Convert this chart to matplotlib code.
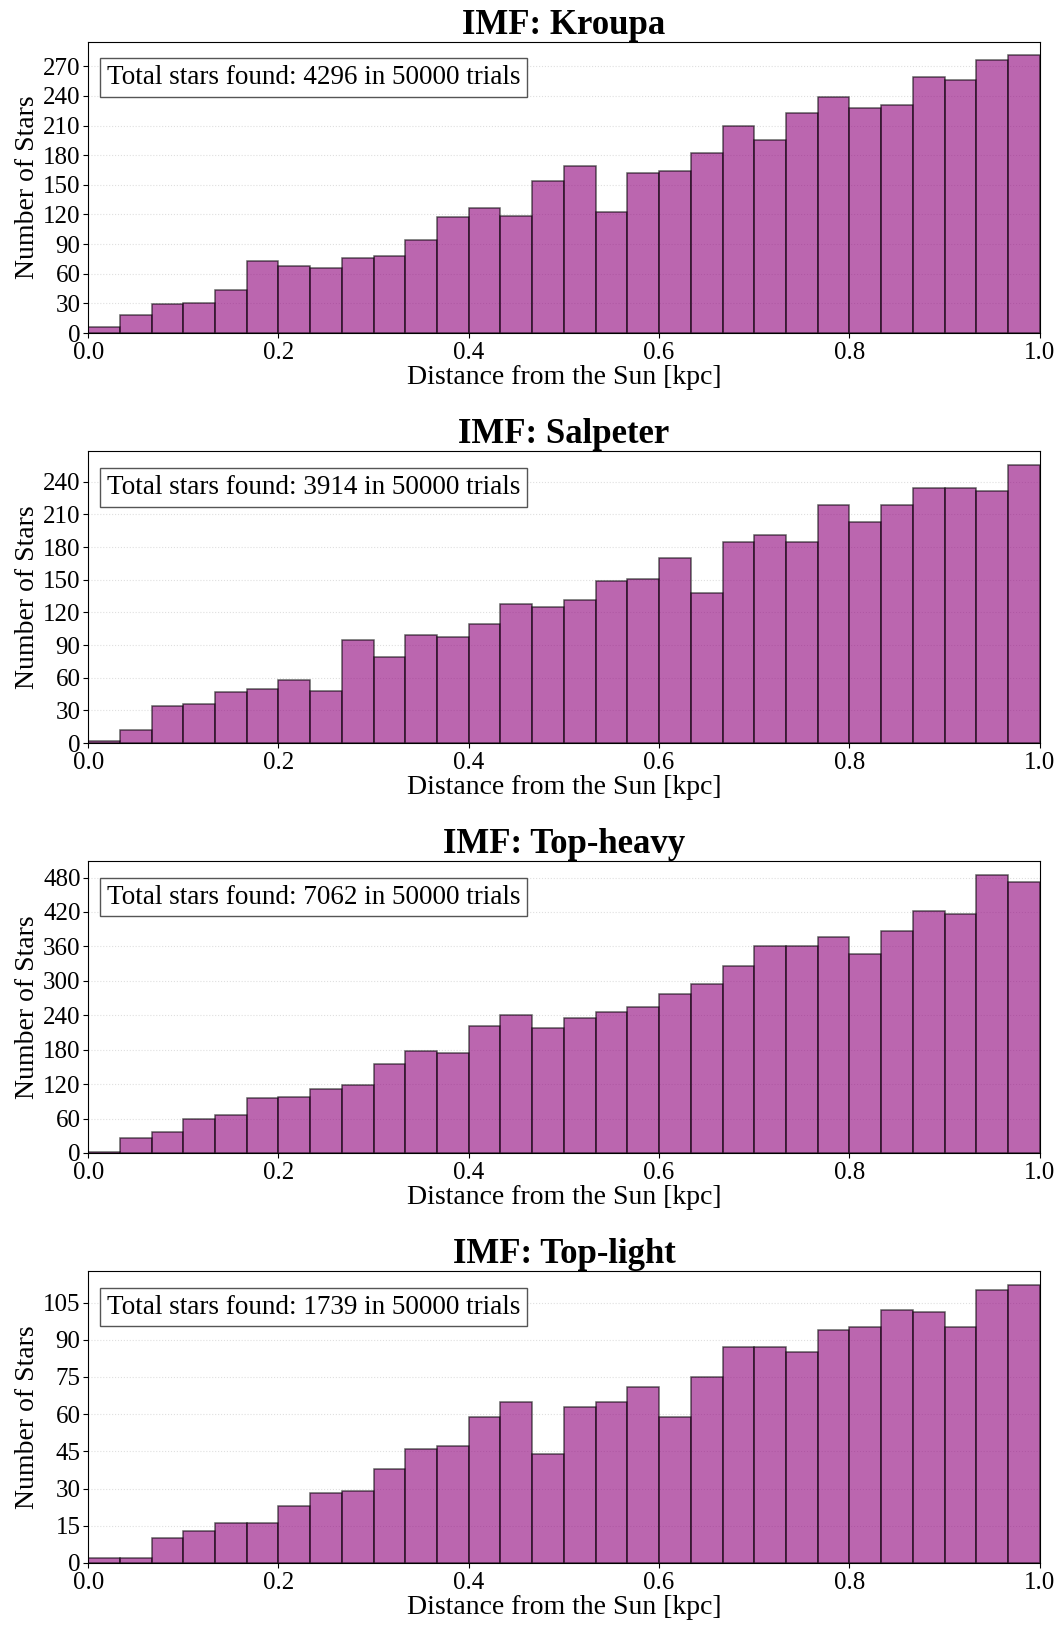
import matplotlib
matplotlib.use("Agg")
import matplotlib.pyplot as plt
import numpy as np
from matplotlib.ticker import MaxNLocator

plt.rcParams['font.family'] = ['Liberation Serif', 'DejaVu Serif']
plt.rcParams['mathtext.fontset'] = 'stix'

# 30 distance bins between 0 and 1 kpc
bin_edges = np.linspace(0.0, 1.0, 31)
n_trials = 50000

imf_names = ["Kroupa", "Salpeter", "Top-heavy", "Top-light"]

kroupa_counts = [6, 18, 29, 30, 44, 73, 68, 66, 76, 78, 94, 117, 127, 118, 154,
                 169, 123, 162, 164, 182, 210, 195, 223, 239, 228, 231, 259, 256, 276, 281]
salpeter_counts = [2, 12, 34, 36, 47, 50, 58, 48, 95, 79, 99, 97, 109, 128, 125,
                   131, 149, 151, 170, 138, 185, 191, 185, 219, 203, 219, 234, 234, 231, 255]
topheavy_counts = [2, 26, 37, 60, 66, 95, 98, 111, 119, 155, 178, 175, 222, 241, 217,
                   236, 246, 254, 277, 295, 325, 361, 361, 377, 346, 387, 422, 416, 484, 473]
toplight_counts = [2, 2, 10, 13, 16, 16, 23, 28, 29, 38, 46, 47, 59, 65, 44,
                   63, 65, 71, 59, 75, 87, 87, 85, 94, 95, 102, 101, 95, 110, 112]

all_counts = [kroupa_counts, salpeter_counts, topheavy_counts, toplight_counts]

fig, axes = plt.subplots(4, 1, figsize=(10.62, 16.28), dpi=100)
fig.subplots_adjust(left=0.083, right=0.979, top=0.9745, bottom=0.040, hspace=0.406)

centers = 0.5 * (bin_edges[:-1] + bin_edges[1:])

for ax, name, counts in zip(axes, imf_names, all_counts):
    counts = np.array(counts)
    ax.hist(centers, bins=bin_edges, weights=counts, color='#8f007b',
            edgecolor='black', alpha=0.6, linewidth=1.1, zorder=2)
    ax.set_xlim(0, 1.0)
    ax.set_ylim(0, counts.max() * 1.05)
    ax.yaxis.set_major_locator(MaxNLocator(integer=True))
    ax.grid(axis='y', linestyle=':', alpha=0.4, zorder=0)
    ax.set_title(f"IMF: {name}", fontsize=25, fontweight='bold', pad=4)
    ax.set_xlabel("Distance from the Sun [kpc]", fontsize=20, labelpad=1)
    ax.set_ylabel("Number of Stars", fontsize=20, labelpad=2)
    ax.tick_params(axis='y', labelsize=18, pad=2)
    ax.tick_params(axis='x', labelsize=18, pad=3)
    ax.text(0.02, 0.92, f"Total stars found: {counts.sum()} in {n_trials} trials",
            transform=ax.transAxes, fontsize=19.5, va='top', ha='left',
            bbox=dict(facecolor='white', edgecolor='#555555', boxstyle='square,pad=0.25'))

plt.savefig("out.png", dpi=100)
